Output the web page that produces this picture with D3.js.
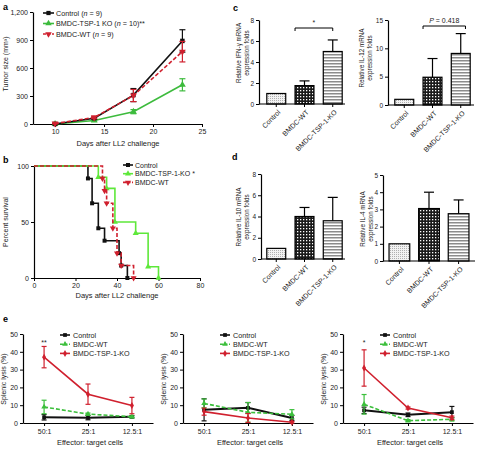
<!DOCTYPE html>
<html><head><meta charset="utf-8">
<script src="https://cdn.jsdelivr.net/npm/d3@7"></script>
<style>body{margin:0;background:#fff} svg{display:block;font-family:"Liberation Sans",Arial,sans-serif}</style>
</head><body><svg id="c" width="477" height="450"></svg>
<script>
// ---------- DATA ----------
// panel a: tumor growth
const tumorDays = [10, 14, 18, 23];
const tumorControl = [0, 62, 310, 890];
const tumorControlErr = [5, 12, 70, 120];
const tumorKO = [0, 38, 132, 420];
const tumorKOErr = [3, 8, 22, 65];
const tumorWT = [5, 70, 305, 775];
const tumorWTErr = [4, 14, 65, 110];
const tumorYTicks = [0, 300, 600, 900, 1200];
const tumorXTicks = [10, 15, 20, 25];

// panel b: survival
const survControlT = [0, 26, 28, 31, 34, 41, 42, 45];
const survControlS = [100, 88.9, 66.7, 44.4, 33.3, 22.2, 11.1, 0];
const survKOT = [0, 31, 35, 39, 49, 55, 60];
const survKOS = [100, 90, 80, 50, 40, 10, 0];
const survWTT = [0, 33, 34, 35, 38, 40, 42, 48];
const survWTS = [100, 88.9, 77.8, 66.7, 44.4, 22.2, 11.1, 0];
const survXTicks = [0, 20, 40, 60, 80];
const survYTicks = [0, 50, 100];

// panels c, d: bars
const barCats = ["Control", "BMDC-WT", "BMDC-TSP-1-KO"];
const ifnVals = [1.0, 1.75, 5.0];
const ifnErr = [0, 0.45, 1.1];
const il12Vals = [1.0, 4.9, 9.1];
const il12Err = [0, 3.3, 3.5];
const il10Vals = [1.0, 4.0, 3.6];
const il10Err = [0, 0.85, 2.2];
const il4Vals = [1.0, 3.05, 2.75];
const il4Err = [0, 0.95, 0.8];

// panel e: splenic lysis
const lysisCats = ["50:1", "25:1", "12.5:1"];
const lysisYTicks = [0, 10, 20, 30, 40, 50];
const e1Control = [3.2, 3.0, 3.5], e1ControlErr = [1.5, 1.2, 0.6];
const e1WT = [9.0, 5.0, 3.5], e1WTErr = [3.8, 0.6, 0.5];
const e1KO = [37, 16.2, 9.8], e1KOErr = [6, 5.7, 4.6];
const e2Control = [7.4, 8.5, 2.8], e2ControlErr = [6.2, 3.0, 1.5];
const e2WT = [11, 6, 4.9], e2WTErr = [2.5, 5.5, 2.6];
const e2KO = [6.4, 2.8, 0.4], e2KOErr = [2.0, 2.5, 0.5];
const e3Control = [7.1, 4.6, 6.1], e3ControlErr = [1.8, 1.0, 3.2];
const e3WT = [10.5, 1.3, 2.1], e3WTErr = [5.5, 0.6, 1.0];
const e3KO = [30.9, 8.4, 2.9], e3KOErr = [10.2, 0.6, 1.0];

// ---------- DRAW ----------
const FONT = '"Liberation Sans", Arial, sans-serif';
const svg = d3.select('#c');
svg.append('rect').attr('width', 477).attr('height', 450).attr('fill', '#fff');

const BLACK = '#111', GREEN_A = '#3dbb3d', GREEN_B = '#5ee83a', GREEN_E = '#3cbf3c', RED = '#d0202e';

// patterns
const defs = svg.append('defs');
const pDot = defs.append('pattern').attr('id', 'pdot').attr('patternUnits', 'userSpaceOnUse').attr('width', 2).attr('height', 2);
pDot.append('rect').attr('width', 2).attr('height', 2).attr('fill', '#f2f2f2');
pDot.append('rect').attr('width', 1).attr('height', 1).attr('fill', '#b0b0b0');
const pChk = defs.append('pattern').attr('id', 'pchk').attr('patternUnits', 'userSpaceOnUse').attr('width', 3).attr('height', 3);
pChk.append('rect').attr('width', 3).attr('height', 3).attr('fill', '#1a1a1a');
pChk.append('rect').attr('width', 1.3).attr('height', 1.3).attr('fill', '#fff');
const pStr = defs.append('pattern').attr('id', 'pstr').attr('patternUnits', 'userSpaceOnUse').attr('width', 4).attr('height', 3);
pStr.append('rect').attr('width', 4).attr('height', 3).attr('fill', '#fff');
pStr.append('rect').attr('width', 4).attr('height', 1.5).attr('fill', '#8c8c8c');
const barFills = ['url(#pdot)', 'url(#pchk)', 'url(#pstr)'];

function styleAxis(g, fs) {
  g.attr('font-size', fs || 7).attr('font-family', FONT);
  g.select('.domain').attr('stroke', '#000').attr('stroke-width', 1.2);
  g.selectAll('.tick line').attr('stroke', '#000').attr('stroke-width', 1);
  g.selectAll('.tick text').attr('fill', '#222');
}
function text(x, y, s, opts) {
  opts = opts || {};
  const t = svg.append('text').attr('x', x).attr('y', y).attr('font-family', FONT)
    .attr('font-size', opts.size || 7).attr('fill', opts.fill || '#222')
    .attr('text-anchor', opts.anchor || 'start');
  if (opts.weight) t.attr('font-weight', opts.weight);
  if (opts.rotate) t.attr('transform', `rotate(${opts.rotate},${x},${y})`);
  t.text(s);
  return t;
}
function marker(g, type, x, y, color, size, rot) {
  g.append('path').attr('d', d3.symbol().type(type).size(size || 18)())
    .attr('transform', `translate(${x},${y})${rot ? ' rotate(' + rot + ')' : ''}`)
    .attr('fill', color);
}
function errBar(g, x, y1, y2, color, cap, w) {
  g.append('line').attr('x1', x).attr('x2', x).attr('y1', y1).attr('y2', y2).attr('stroke', color).attr('stroke-width', w || 1.2);
  [y1, y2].forEach(yy => g.append('line').attr('x1', x - cap).attr('x2', x + cap).attr('y1', yy).attr('y2', yy).attr('stroke', color).attr('stroke-width', w || 1.2));
}

// panel letters
text(3, 10, 'a', { size: 9, weight: 'bold', fill: '#000' });
text(3, 163, 'b', { size: 9, weight: 'bold', fill: '#000' });
text(233, 11, 'c', { size: 9, weight: 'bold', fill: '#000' });
text(232, 160, 'd', { size: 9, weight: 'bold', fill: '#000' });
text(3, 322, 'e', { size: 9, weight: 'bold', fill: '#000' });

// ---------- panel a ----------
(function () {
  const x = d3.scaleLinear().domain([7.75, 25]).range([33, 202]);
  const y = d3.scaleLinear().domain([0, 1200]).range([124, 12]);
  const g = svg.append('g');
  styleAxis(g.append('g').attr('transform', 'translate(33,0)').call(d3.axisLeft(y).tickValues(tumorYTicks).tickFormat(d3.format(',')).tickSize(3).tickPadding(2).tickSizeOuter(0)));
  styleAxis(g.append('g').attr('transform', 'translate(0,124)').call(d3.axisBottom(x).tickValues(tumorXTicks).tickFormat(d3.format('d')).tickSize(3).tickPadding(2).tickSizeOuter(0)));
  const series = [
    { v: tumorKO, e: tumorKOErr, c: GREEN_A, t: d3.symbolTriangle, r: 0, dash: null },
    { v: tumorControl, e: tumorControlErr, c: BLACK, t: d3.symbolSquare, r: 0, dash: null },
    { v: tumorWT, e: tumorWTErr, c: RED, t: d3.symbolTriangle, r: 180, dash: '4,2' },
  ];
  series.forEach(s => {
    tumorDays.forEach((d, i) => errBar(g, x(d), y(s.v[i] + s.e[i]), y(Math.max(0, s.v[i] - s.e[i])), s.c, 3, 1.2));
    g.append('path').datum(s.v).attr('d', d3.line().x((d, i) => x(tumorDays[i])).y(d => y(d)))
      .attr('fill', 'none').attr('stroke', s.c).attr('stroke-width', 1.6).attr('stroke-dasharray', s.dash);
    tumorDays.forEach((d, i) => marker(g, s.t, x(d), y(s.v[i]), s.c, 20, s.r));
  });
  text(8, 64, 'Tumor size (mm³)', { size: 7, anchor: 'middle', rotate: -90 });
  text(118, 146, 'Days after LL2 challenge', { size: 7.5, anchor: 'middle' });
  // legend
  const leg = [
    { c: BLACK, t: d3.symbolSquare, r: 0, dash: null, lab: ['Control (', 'n', ' = 9)'] },
    { c: GREEN_A, t: d3.symbolTriangle, r: 0, dash: null, lab: ['BMDC-TSP-1 KO (', 'n', ' = 10)**'] },
    { c: RED, t: d3.symbolTriangle, r: 180, dash: '3,1.5', lab: ['BMDC-WT (', 'n', ' = 9)'] },
  ];
  leg.forEach((l, i) => {
    const yy = 13 + i * 10.5;
    g.append('line').attr('x1', 43).attr('x2', 54).attr('y1', yy).attr('y2', yy).attr('stroke', l.c).attr('stroke-width', 1.6).attr('stroke-dasharray', l.dash);
    marker(g, l.t, 48.5, yy, l.c, 18, l.r);
    const t = text(56, yy + 2.5, '', { size: 7.2 });
    t.append('tspan').text(l.lab[0]);
    t.append('tspan').attr('font-style', 'italic').text(l.lab[1]);
    t.append('tspan').text(l.lab[2]);
  });
})();

// ---------- panel b ----------
(function () {
  const x = d3.scaleLinear().domain([0, 80]).range([34, 200]);
  const y = d3.scaleLinear().domain([0, 100]).range([278, 166]);
  const g = svg.append('g');
  styleAxis(g.append('g').attr('transform', 'translate(34,0)').call(d3.axisLeft(y).tickValues(survYTicks).tickFormat(d3.format('d')).tickSize(3).tickPadding(2).tickSizeOuter(0)));
  styleAxis(g.append('g').attr('transform', 'translate(0,278)').call(d3.axisBottom(x).tickValues(survXTicks).tickFormat(d3.format('d')).tickSize(3).tickPadding(2).tickSizeOuter(0)));
  const series = [
    { T: survControlT, S: survControlS, c: BLACK, t: d3.symbolSquare, r: 0, dash: null },
    { T: survKOT, S: survKOS, c: GREEN_B, t: d3.symbolTriangle, r: 0, dash: null },
    { T: survWTT, S: survWTS, c: RED, t: d3.symbolTriangle, r: 180, dash: '4,2' },
  ];
  series.forEach(s => {
    const pts = s.T.map((t, i) => [t, s.S[i]]);
    g.append('path').datum(pts).attr('d', d3.line().curve(d3.curveStepAfter).x(d => x(d[0])).y(d => y(d[1])))
      .attr('fill', 'none').attr('stroke', s.c).attr('stroke-width', 1.6).attr('stroke-dasharray', s.dash);
    pts.slice(1).forEach(p => marker(g, s.t, x(p[0]), y(p[1]), s.c, 16, s.r));
  });
  text(8, 222, 'Percent survival', { size: 7, anchor: 'middle', rotate: -90 });
  text(117, 298, 'Days after LL2 challenge', { size: 7.5, anchor: 'middle' });
  const leg = [
    { c: BLACK, t: d3.symbolSquare, r: 0, dash: null, lab: 'Control' },
    { c: GREEN_B, t: d3.symbolTriangle, r: 0, dash: null, lab: 'BMDC-TSP-1-KO *' },
    { c: RED, t: d3.symbolTriangle, r: 180, dash: '3,1.5', lab: 'BMDC-WT' },
  ];
  leg.forEach((l, i) => {
    const yy = 165 + i * 8.7;
    g.append('line').attr('x1', 123).attr('x2', 133).attr('y1', yy).attr('y2', yy).attr('stroke', l.c).attr('stroke-width', 1.6).attr('stroke-dasharray', l.dash);
    marker(g, l.t, 128, yy, l.c, 16, l.r);
    text(135, yy + 2.5, l.lab, { size: 7 });
  });
})();

// ---------- bar charts ----------
function barChart(o) {
  const g = svg.append('g');
  const x = d3.scaleBand().domain(barCats).range(o.range).paddingInner(o.pi).paddingOuter(o.po);
  const y = d3.scaleLinear().domain([0, o.max]).range([o.y0, o.y1]);
  const bw = x.bandwidth();
  o.vals.forEach((v, i) => {
    const c = barCats[i];
    const cx = x(c) + bw / 2;
    if (o.errs[i] > 0) {
      g.append('line').attr('x1', cx).attr('x2', cx).attr('y1', y(v)).attr('y2', y(v + o.errs[i])).attr('stroke', '#000').attr('stroke-width', 1.2);
      g.append('line').attr('x1', cx - 5).attr('x2', cx + 5).attr('y1', y(v + o.errs[i])).attr('y2', y(v + o.errs[i])).attr('stroke', '#000').attr('stroke-width', 1.2);
    }
    g.append('rect').attr('x', x(c)).attr('y', y(v)).attr('width', bw).attr('height', y(0) - y(v))
      .attr('fill', barFills[i]).attr('stroke', '#000').attr('stroke-width', 1.2);
  });
  styleAxis(g.append('g').attr('transform', `translate(${o.ax},0)`).call(d3.axisLeft(y).tickValues(o.ticks).tickFormat(d3.format('d')).tickSize(3).tickPadding(2).tickSizeOuter(0)), 6.5);
  g.append('line').attr('x1', o.ax).attr('x2', o.axEnd).attr('y1', o.y0).attr('y2', o.y0).attr('stroke', '#000').attr('stroke-width', 1.2);
  barCats.forEach(c => {
    const cx = x(c) + bw / 2;
    g.append('line').attr('x1', cx).attr('x2', cx).attr('y1', o.y0).attr('y2', o.y0 + 3).attr('stroke', '#000').attr('stroke-width', 1);
    const tx = cx + 3, ty = o.y0 + 7;
    g.append('text').attr('x', tx).attr('y', ty).attr('dy', '0.35em').attr('text-anchor', 'end')
      .attr('font-family', FONT).attr('font-size', 7).attr('fill', '#222')
      .attr('transform', `rotate(-45,${tx},${ty})`).text(c);
  });
  o.label.forEach((l, i) => text(o.lx[i], o.ly, l, { size: 6.3, anchor: 'middle', rotate: -90 }));
  if (o.sig) {
    const xa = x(barCats[1]) + o.sig.a * bw, xb = x(barCats[2]) + o.sig.b * bw, yy = o.sig.y;
    g.append('path').attr('d', `M${xa},${yy + 3}V${yy}H${xb}V${yy + 3}`).attr('fill', 'none').attr('stroke', '#000').attr('stroke-width', 1);
    const t = text((xa + xb) / 2, yy - 3, '', { size: 7, anchor: 'middle' });
    o.sig.parts.forEach(p => t.append('tspan').attr('font-style', p[1] ? 'italic' : null).text(p[0]));
  }
  return g;
}
barChart({ range: [262, 347], pi: 0.33, po: 0.17, max: 8, y0: 104, y1: 20, ticks: [0, 2, 4, 6, 8], vals: ifnVals, errs: ifnErr,
  ax: 259, axEnd: 345, label: ['Relative IFN-γ mRNA', 'expression folds'], lx: [241, 248.5], ly: 53,
  sig: { a: 0, b: 0.5, y: 28, parts: [['*', false]] } });
barChart({ range: [390, 475], pi: 0.33, po: 0.17, max: 15, y0: 105, y1: 20, ticks: [0, 5, 10, 15], vals: il12Vals, errs: il12Err,
  ax: 388, axEnd: 474, label: ['Relative IL-12 mRNA', 'expression folds'], lx: [364, 371.5], ly: 58,
  sig: { a: 0, b: 0.75, y: 26, parts: [['P', true], [' = 0.418', false]] } });
barChart({ range: [262, 347], pi: 0.33, po: 0.17, max: 8, y0: 259, y1: 174, ticks: [0, 2, 4, 6, 8], vals: il10Vals, errs: il10Err,
  ax: 261, axEnd: 345, label: ['Relative IL-10 mRNA', 'expression folds'], lx: [241, 248.5], ly: 217 });
barChart({ range: [384, 474], pi: 0.3, po: 0.17, max: 5, y0: 261, y1: 175, ticks: [0, 1, 2, 3, 4, 5], vals: il4Vals, errs: il4Err,
  ax: 383, axEnd: 475, label: ['Relative IL-4 mRNA', 'expression folds'], lx: [365, 372.5], ly: 219 });

// ---------- panel e ----------
function lysisChart(o) {
  const g = svg.append('g');
  const x = d3.scalePoint().domain(lysisCats).range([o.ax, o.ax + 130]).padding(0.48);
  const y = d3.scaleLinear().domain([0, 50]).range([423, 334]);
  styleAxis(g.append('g').attr('transform', `translate(${o.ax},0)`).call(d3.axisLeft(y).tickValues(lysisYTicks).tickFormat(d3.format('d')).tickSize(3).tickPadding(2).tickSizeOuter(0)));
  styleAxis(g.append('g').attr('transform', 'translate(0,423)').call(d3.axisBottom(x).tickSize(3).tickPadding(3).tickSizeOuter(0)));
  const series = [
    { v: o.ctrl, e: o.ctrlE, c: BLACK, t: d3.symbolSquare, r: 0, dash: null, w: 2 },
    { v: o.wt, e: o.wtE, c: GREEN_E, t: d3.symbolTriangle, r: 0, dash: '4,2', w: 1.6 },
    { v: o.ko, e: o.koE, c: RED, t: d3.symbolDiamond, r: 0, dash: null, w: 1.6 },
  ];
  series.forEach(s => {
    lysisCats.forEach((c, i) => errBar(g, x(c), y(s.v[i] + s.e[i]), y(Math.max(0, s.v[i] - s.e[i])), s.c, 2.5, 1.2));
    g.append('path').datum(s.v).attr('d', d3.line().x((d, i) => x(lysisCats[i])).y(d => y(d)))
      .attr('fill', 'none').attr('stroke', s.c).attr('stroke-width', s.w).attr('stroke-dasharray', s.dash);
    lysisCats.forEach((c, i) => marker(g, s.t, x(c), y(s.v[i]), s.c, 14, s.r));
  });
  text(o.ax - 17, 379, 'Splenic lysis (%)', { size: 7, anchor: 'middle', rotate: -90 });
  text(o.ax + 67, 445, 'Effector: target cells', { size: 7.5, anchor: 'middle' });
  const leg = [
    { c: BLACK, t: d3.symbolSquare, dash: null, lab: 'Control' },
    { c: GREEN_E, t: d3.symbolTriangle, dash: '3,1.5', lab: 'BMDC-WT' },
    { c: RED, t: d3.symbolDiamond, dash: null, lab: 'BMDC-TSP-1-KO' },
  ];
  leg.forEach((l, i) => {
    const yy = 335 + i * 9.2;
    g.append('line').attr('x1', o.ax + 37).attr('x2', o.ax + 47).attr('y1', yy).attr('y2', yy).attr('stroke', l.c).attr('stroke-width', 1.6).attr('stroke-dasharray', l.dash);
    marker(g, l.t, o.ax + 42, yy, l.c, 14, 0);
    text(o.ax + 50, yy + 2.5, l.lab, { size: 7.2 });
  });
  if (o.star) text(x(lysisCats[0]), 345, o.star, { size: 7, anchor: 'middle' });
}
lysisChart({ ax: 23, ctrl: e1Control, ctrlE: e1ControlErr, wt: e1WT, wtE: e1WTErr, ko: e1KO, koE: e1KOErr, star: '**' });
lysisChart({ ax: 183, ctrl: e2Control, ctrlE: e2ControlErr, wt: e2WT, wtE: e2WTErr, ko: e2KO, koE: e2KOErr });
lysisChart({ ax: 343, ctrl: e3Control, ctrlE: e3ControlErr, wt: e3WT, wtE: e3WTErr, ko: e3KO, koE: e3KOErr, star: '*' });
</script></body></html>
